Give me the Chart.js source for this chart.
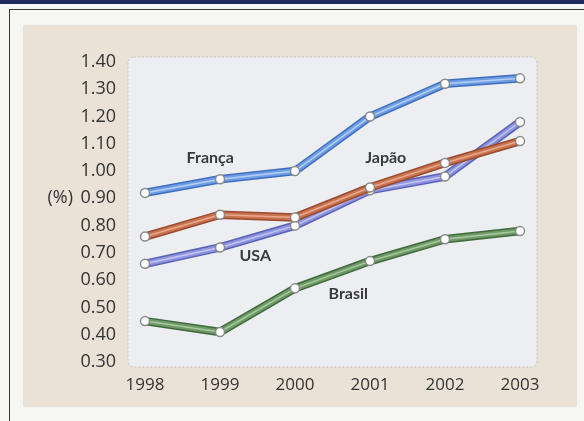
<!DOCTYPE html>
<html>
<head>
<meta charset="utf-8">
<script src="https://cdn.jsdelivr.net/npm/chart.js@4/dist/chart.umd.min.js"></script>
<style>
    body { margin: 0; background: #f6f6f5; width: 584px; height: 421px; overflow: hidden; position: relative; }
    #barre { position: absolute; left: 0; top: 0; width: 584px; height: 4px; background: #1d2c5c; }
    #cadre { position: absolute; left: 9px; top: 9px; width: 580px; height: 420px; border-left: 1.5px solid #3a3a3a; border-top: 1.5px solid #3a3a3a; }
    #fond { position: absolute; left: 23px; top: 25px; width: 554px; height: 382px; background: #eae2d7; }
    #graph { position: absolute; left: 0; top: 0; }
</style>
</head>
<body>
<div id="barre"></div>
<div id="cadre"></div>
<div id="fond"></div>
<canvas id="graph" width="584" height="421"></canvas>
<script>
'use strict';

/* global Chart */

const annees = ['1998', '1999', '2000', '2001', '2002', '2003'];
const france = [0.92, 0.97, 1.00, 1.20, 1.32, 1.34];
const japon = [0.76, 0.84, 0.83, 0.94, 1.03, 1.11];
const usa = [0.66, 0.72, 0.80, 0.93, 0.98, 1.18];
const bresil = [0.45, 0.41, 0.57, 0.67, 0.75, 0.78];
const ticksY = [0.30, 0.40, 0.50, 0.60, 0.70, 0.80, 0.90, 1.00, 1.10, 1.20, 1.30, 1.40];

// étiquettes des courbes : [texte, index x, valeur y]
const etiquettes = [
    ['França', 0.87, 1.05],
    ['Japão', 3.21, 1.05],
    ['USA', 1.47, 0.69],
    ['Brasil', 2.71, 0.55]
];

const police = '"Open Sans", "DejaVu Sans", sans-serif';

// trois traits par série : contour foncé, tube, reflet + points
function serie(data, fonce, clair, reflet) {
    return [
        {
            data: data,
            borderColor: fonce,
            borderWidth: 8.5,
            pointRadius: 0,
            borderCapStyle: 'round',
            borderJoinStyle: 'round'
        },
        {
            data: data,
            borderColor: clair,
            borderWidth: 5.5,
            pointRadius: 0,
            borderCapStyle: 'round',
            borderJoinStyle: 'round'
        },
        {
            data: data,
            borderColor: reflet,
            borderWidth: 1.5,
            pointRadius: 4.5,
            pointBackgroundColor: '#ffffff',
            pointBorderColor: '#8a8a8a',
            pointBorderWidth: 1.5,
            borderCapStyle: 'round'
        }
    ];
}

let jeux = [].concat(
    serie(bresil, '#3f6a3c', '#6f9a66', '#a9c9a0'),
    serie(usa, '#5a62b8', '#8e94de', '#c3c7f2'),
    serie(japon, '#9a4a30', '#c9734f', '#e8a88c'),
    serie(france, '#3f6fc0', '#6f9de4', '#b4cff5')
);
// Chart.js dessine le premier jeu au-dessus : on inverse l'ordre
jeux.forEach(function (j, i) { j.order = jeux.length - i; });

const fondGraph = {
    id: 'fondGraph',
    beforeDraw(chart) {
        const ctx = chart.ctx;
        const a = chart.chartArea;
        const x = a.left - 17, y = a.top - 5, w = a.right - a.left + 34, h = a.bottom - a.top + 10;
        ctx.save();
        ctx.fillStyle = '#eceef1';
        ctx.strokeStyle = '#c4c4c4';
        ctx.lineWidth = 1;
        ctx.setLineDash([2, 2]);
        ctx.beginPath();
        ctx.roundRect(x, y, w, h, 6);
        ctx.fill();
        ctx.stroke();
        ctx.restore();
    },
    afterDraw(chart) {
        const ctx = chart.ctx;
        const sx = chart.scales.x;
        const sy = chart.scales.y;
        ctx.save();
        ctx.fillStyle = '#3a3a3a';
        ctx.font = 'bold 16px Lato, ' + police;
        ctx.textAlign = 'center';
        ctx.textBaseline = 'middle';
        etiquettes.forEach(function (e) {
            ctx.fillText(e[0], sx.getPixelForValue(e[1]), sy.getPixelForValue(e[2]));
        });
        ctx.fillStyle = '#333333';
        ctx.font = '18px ' + police;
        ctx.textAlign = 'right';
        ctx.fillText('(%)', 73, sy.getPixelForValue(0.90));
        ctx.restore();
    }
};

const ctx = document.getElementById('graph').getContext('2d');
// eslint-disable-next-line no-unused-vars
let graphique = new Chart(ctx, {
    type: 'line',
    data: {
        labels: annees,
        datasets: jeux
    },
    options: {
        responsive: false,
        animation: false,
        layout: { padding: { top: 62, right: 64, left: 0, bottom: 0 } },
        plugins: { legend: { display: false }, tooltip: { enabled: false } },
        scales: {
            x: {
                type: 'category',
                offset: false,
                grid: { display: false },
                border: { display: false },
                ticks: { color: '#333333', font: { family: police, size: 17 }, padding: 5, maxRotation: 0 },
                afterFit(axis) { axis.height = 59; }
            },
            y: {
                min: 0.30,
                max: 1.40,
                grid: { display: false },
                border: { display: false },
                afterBuildTicks(axis) { axis.ticks = ticksY.map(v => ({ value: v })); },
                ticks: {
                    color: '#333333',
                    font: { family: police, size: 18 },
                    padding: 21,
                    callback: v => v.toFixed(2)
                },
                afterFit(axis) { axis.width = 145; }
            }
        }
    },
    plugins: [fondGraph]
});
</script>
</body>
</html>
